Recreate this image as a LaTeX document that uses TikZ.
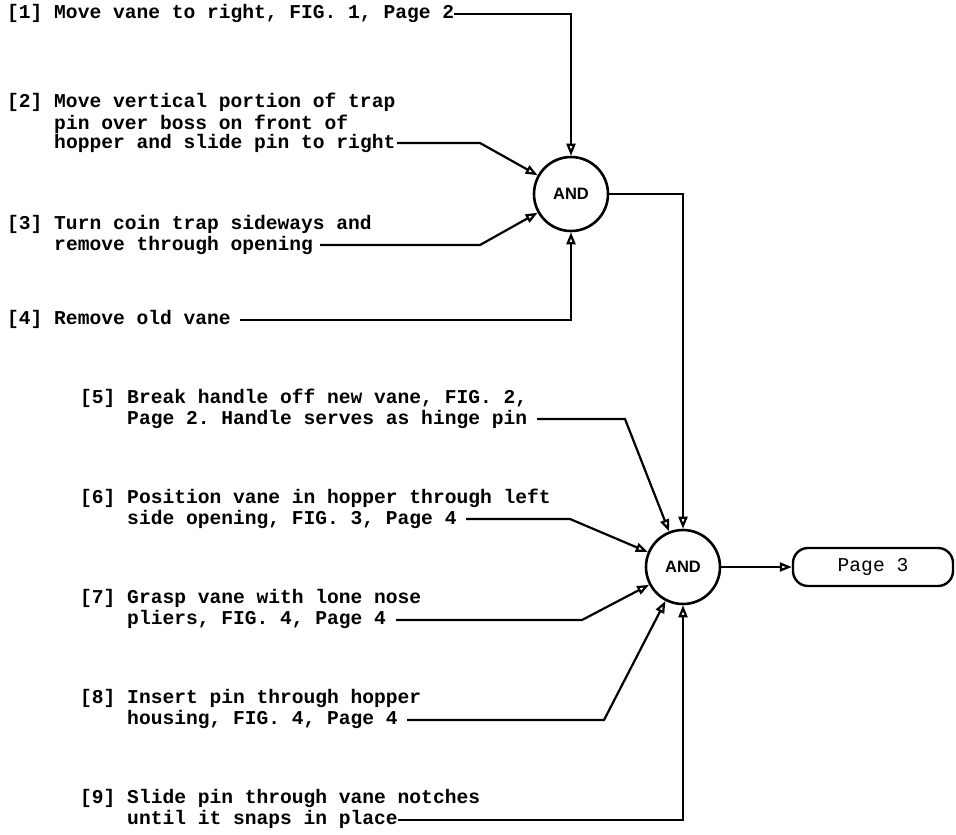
\documentclass[tikz,border=0pt]{standalone}
\usepackage{fontspec}
\usepackage{tikz}
\usetikzlibrary{arrows.meta,positioning}

\newfontfamily\typer{Liberation Mono}
\newfontfamily\gatesans{Liberation Sans}
\newcommand\itemfont{\typer\bfseries\fontsize{19.6pt}{19.7pt}\selectfont\frenchspacing}
\newcommand\pagefont{\typer\fontsize{19.6pt}{19.7pt}\selectfont}
\newcommand\gatefont{\gatesans\bfseries\fontsize{16.5pt}{16.5pt}\selectfont}
\newcommand\ind{\hphantom{[0]\ }}

\begin{document}
\begin{tikzpicture}[
    x=1pt, y=-1pt,
    every node/.style={inner sep=0pt},
    task/.style={anchor=west, align=left, font=\itemfont},
    gate/.style={draw, circle, line width=2.6pt, minimum size=74pt, font=\gatefont},
    page/.style={draw, rounded corners=15pt, line width=2.4pt, minimum width=160pt, minimum height=38pt, font=\pagefont},
    flow/.style={draw, line width=2.2pt, -{Triangle[open, length=12pt, width=9pt]}}
]
\useasboundingbox (0,0) rectangle (956,835);

% first group of steps
\node[task] (i1) at (7,14) {\strut[1] Move vane to right, FIG. 1, Page 2};
\node[task] (i2) at (7,124) {\strut[2] Move vertical portion of trap\\ \ind pin over boss on front of\\ \ind hopper and slide pin to right\strut};
\node[task] (i3) at (7,235.5) {\strut[3] Turn coin trap sideways and\\ \ind remove through opening\strut};
\node[task] (i4) at (7,320) {\strut[4] Remove old vane};

% second group of steps
\node[task] (i5) at (80,409.5) {\strut[5] Break handle off new vane, FIG. 2,\\ \ind Page 2. Handle serves as hinge pin\strut};
\node[task] (i6) at (80,509.5) {\strut[6] Position vane in hopper through left\\ \ind side opening, FIG. 3, Page 4\strut};
\node[task] (i7) at (80,610) {\strut[7] Grasp vane with lone nose\\ \ind pliers, FIG. 4, Page 4\strut};
\node[task] (i8) at (80,710) {\strut[8] Insert pin through hopper\\ \ind housing, FIG. 4, Page 4\strut};
\node[task] (i9) at (80,810) {\strut[9] Slide pin through vane notches\\ \ind until it snaps in place\strut};

\node[gate] (and1) at (571,194) {AND};
\node[gate] (and2) at (683,567) {AND};
\node[page] (pg) at (873,567) {Page 3};

% line ends after the last text line
\coordinate (e2) at (397,143);
\coordinate (e3) at (320,245);
\coordinate (e5) at (537,419);
\coordinate (e6) at (466,519);
\coordinate (e7) at (396,620);
\coordinate (e8) at (407,720);
\coordinate (e9) at (398,820);

\draw[flow] (i1.east) -| (and1);
\draw[flow] (e2) -- (480,143) -- (and1);
\draw[flow] (e3) -- (480,245) -- (and1);
\draw[flow] ([xshift=9pt]i4.east) -| (and1);
\draw[flow] (and1) -| (and2);

\draw[flow] (e5) -- (625,419) -- (and2);
\draw[flow] (e6) -- (570,519) -- (and2);
\draw[flow] (e7) -- (582,620) -- (and2);
\draw[flow] (e8) -- (604,720) -- (and2);
\draw[flow] (e9) -| (and2);
\draw[flow] (and2) -- (pg);
\end{tikzpicture}
\end{document}
